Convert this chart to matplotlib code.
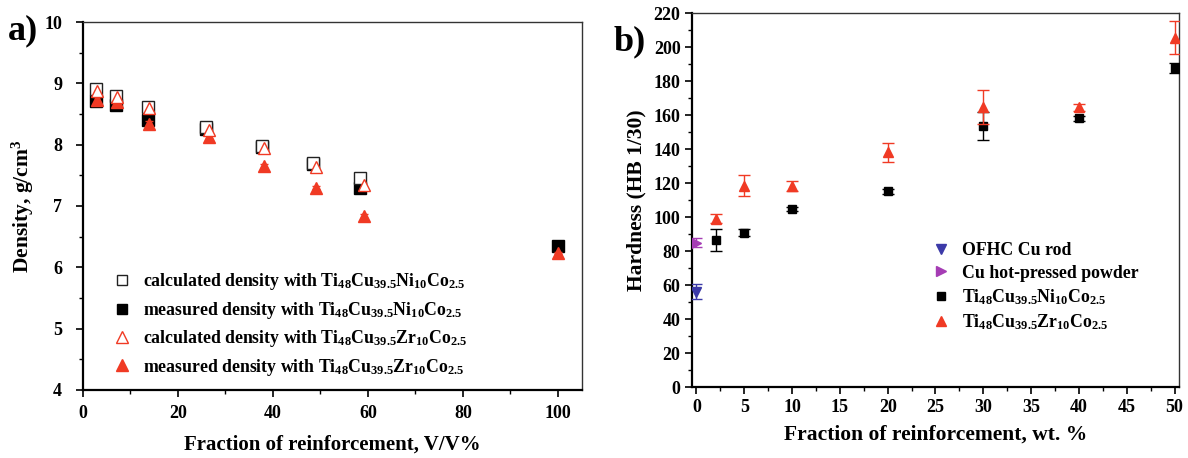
import matplotlib
matplotlib.use("Agg")
import matplotlib.pyplot as plt
from matplotlib.lines import Line2D
import numpy as np

plt.rcParams['font.family'] = ['Liberation Serif', 'DejaVu Serif']
plt.rcParams['font.weight'] = 'bold'
plt.rcParams['mathtext.fontset'] = 'custom'
plt.rcParams['mathtext.rm'] = 'Liberation Serif:bold'
plt.rcParams['mathtext.it'] = 'Liberation Serif:bold'
plt.rcParams['mathtext.bf'] = 'Liberation Serif:bold'
plt.rcParams['mathtext.default'] = 'rm'

# ---------------- panel a data ----------------
x_calc_ni = [2.7, 7.0, 13.6, 26.0, 37.6, 48.4, 58.4]
y_calc_ni = [8.90, 8.79, 8.61, 8.28, 7.98, 7.70, 7.45]
x_meas_ni = [2.7, 7.0, 13.6, 26.0, 37.6, 48.4, 58.4, 100.0]
y_meas_ni = [8.71, 8.64, 8.41, 8.26, 7.96, 7.69, 7.29, 6.35]
x_calc_zr = [2.9, 7.1, 13.9, 26.6, 38.2, 49.1, 59.1]
y_calc_zr = [8.88, 8.78, 8.60, 8.24, 7.94, 7.64, 7.35]
x_meas_zr = [2.9, 7.1, 13.9, 26.6, 38.2, 49.1, 59.1, 100.0]
y_meas_zr = [8.73, 8.70, 8.34, 8.13, 7.65, 7.30, 6.84, 6.23]
err_meas_ni = [0.05, 0.04, 0.04, 0.03, 0.03, 0.03, 0.07, 0.02]
err_meas_zr = [0.05, 0.04, 0.05, 0.04, 0.03, 0.03, 0.03, 0.02]

labels_a = [
    r'calculated density with Ti$_{48}$Cu$_{39.5}$Ni$_{10}$Co$_{2.5}$',
    r'measured density with Ti$_{48}$Cu$_{39.5}$Ni$_{10}$Co$_{2.5}$',
    r'calculated density with Ti$_{48}$Cu$_{39.5}$Zr$_{10}$Co$_{2.5}$',
    r'measured density with Ti$_{48}$Cu$_{39.5}$Zr$_{10}$Co$_{2.5}$',
]

# ---------------- panel b data ----------------
x_ofhc = [0]
y_ofhc = [56.0]
e_ofhc = [4.5]
x_hp = [0]
y_hp = [85.0]
e_hp = [2.5]
x_ni = [2, 5, 10, 20, 30, 40, 50]
y_ni = [86.5, 90.8, 104.7, 115.2, 153.6, 158.1, 187.7]
e_ni = [6.3, 2.0, 1.0, 1.5, 8.3, 1.5, 3.0]
x_zr = [2, 5, 10, 20, 30, 40, 50]
y_zr = [99.0, 118.5, 118.3, 138.0, 165.0, 164.5, 205.5]
e_zr = [2.5, 6.0, 3.0, 5.6, 10.0, 2.0, 9.6]

labels_b = ['OFHC Cu rod', 'Cu hot-pressed powder',
            r'Ti$_{48}$Cu$_{39.5}$Ni$_{10}$Co$_{2.5}$',
            r'Ti$_{48}$Cu$_{39.5}$Zr$_{10}$Co$_{2.5}$']

RED = '#f03a24'
BLUE = '#3c3aa8'
PURPLE = '#a53cb4'

fig = plt.figure(figsize=(11.88, 4.58), dpi=100)
W, H = 1188, 458
axa = fig.add_axes([83/W, 1-390/H, (581.7-83)/W, (390-22)/H])
axb = fig.add_axes([691.7/W, 1-387/H, (1179.3-691.7)/W, (387-13)/H])

# ---- panel a ----
axa.errorbar(x_calc_ni, y_calc_ni, fmt='s', mfc='white', mec='#222222', ms=8, mew=1.0,
             color='#222222', zorder=3)
axa.errorbar(x_meas_ni, y_meas_ni, yerr=err_meas_ni, fmt='s', mfc='black', mec='black',
             ms=8, ecolor='#333333', elinewidth=0.8, capsize=3, zorder=2)
axa.errorbar(x_calc_zr, y_calc_zr, fmt='^', mfc='white', mec=RED, ms=9, mew=1.0,
             color=RED, zorder=4)
axa.errorbar(x_meas_zr, y_meas_zr, yerr=err_meas_zr, fmt='^', mfc=RED, mec=RED, ms=9,
             ecolor=RED, elinewidth=0.8, capsize=3, zorder=3)
axa.set_xlim(0, 105)
axa.set_ylim(4, 10)
axa.set_xticks([0, 20, 40, 60, 80, 100])
axa.set_xticks(np.arange(10, 105, 20), minor=True)
axa.set_yticks([4, 5, 6, 7, 8, 9, 10])
axa.set_yticks(np.arange(4.5, 10, 1), minor=True)
axa.set_xlabel('Fraction of reinforcement, V/V%', fontsize=15, fontweight='bold', labelpad=9)
axa.set_ylabel(r'Density, g/cm$^3$', fontsize=15.5, fontweight='bold', labelpad=6)
hand_a = [
    Line2D([], [], ls='none', marker='s', mfc='white', mec='#222222', ms=7, mew=1.0),
    Line2D([], [], ls='none', marker='s', mfc='black', mec='black', ms=7),
    Line2D([], [], ls='none', marker='^', mfc='white', mec=RED, ms=8, mew=1.0),
    Line2D([], [], ls='none', marker='^', mfc=RED, mec=RED, ms=8),
]
axa.legend(hand_a, labels_a, loc='lower left', bbox_to_anchor=(0.025, -0.01),
           frameon=False, fontsize=12.8, handletextpad=0.6, labelspacing=0.42,
           handlelength=1.2)
axa.text(-0.15, 0.976, 'a)', transform=axa.transAxes, fontsize=26, fontweight='bold',
         va='center', ha='left')

# ---- panel b ----
axb.errorbar(x_ofhc, y_ofhc, yerr=e_ofhc, fmt='v', color=BLUE, ms=7, capsize=4,
             elinewidth=1.0, zorder=3)
axb.errorbar(x_hp, y_hp, yerr=e_hp, fmt='>', color=PURPLE, ms=7, capsize=4,
             elinewidth=1.0, zorder=3)
axb.errorbar(x_ni, y_ni, yerr=e_ni, fmt='s', color='black', ms=5.5, capsize=4,
             elinewidth=1.0, zorder=3)
axb.errorbar(x_zr, y_zr, yerr=e_zr, fmt='^', color=RED, ms=7.5, capsize=4,
             elinewidth=1.0, zorder=4)
axb.set_xlim(-0.5, 50.5)
axb.set_ylim(0, 220)
axb.set_xticks(np.arange(0, 51, 5))
axb.set_xticks(np.arange(2.5, 50, 5), minor=True)
axb.set_yticks(np.arange(0, 221, 20))
axb.set_yticks(np.arange(10, 220, 20), minor=True)
axb.set_xlabel('Fraction of reinforcement, wt. %', fontsize=15.5, fontweight='bold', labelpad=6)
axb.set_ylabel('Hardness (HB 1/30)', fontsize=15.5, fontweight='bold', labelpad=5)
hand_b = [
    Line2D([], [], ls='none', marker='v', color=BLUE, ms=7),
    Line2D([], [], ls='none', marker='>', color=PURPLE, ms=7),
    Line2D([], [], ls='none', marker='s', color='black', ms=5.5),
    Line2D([], [], ls='none', marker='^', color=RED, ms=7.5),
]
axb.legend(hand_b, labels_b, loc='lower left', bbox_to_anchor=(0.46, 0.105),
           frameon=False, fontsize=12.8, handletextpad=0.7, labelspacing=0.3,
           handlelength=1.0)
axb.text(-0.16, 0.922, 'b)', transform=axb.transAxes, fontsize=26, fontweight='bold',
         va='center', ha='left')

for ax in (axa, axb):
    ax.tick_params(which='major', direction='out', length=5, width=1.2, labelsize=13,
                   top=False, right=False)
    ax.tick_params(which='minor', direction='out', length=3, width=1.0,
                   top=False, right=False)
    for lbl in ax.get_xticklabels() + ax.get_yticklabels():
        lbl.set_fontweight('bold')
    for s in ('left', 'bottom'):
        ax.spines[s].set_linewidth(1.6)
    for s in ('top', 'right'):
        ax.spines[s].set_linewidth(1.0)
        ax.spines[s].set_color('#333333')
axa.tick_params(axis='x', which='both', pad=6)
axa.tick_params(axis='y', which='both', pad=10)
axb.tick_params(axis='x', which='both', pad=4)
axb.tick_params(axis='y', which='both', pad=3)

fig.savefig('out.png', dpi=100)
